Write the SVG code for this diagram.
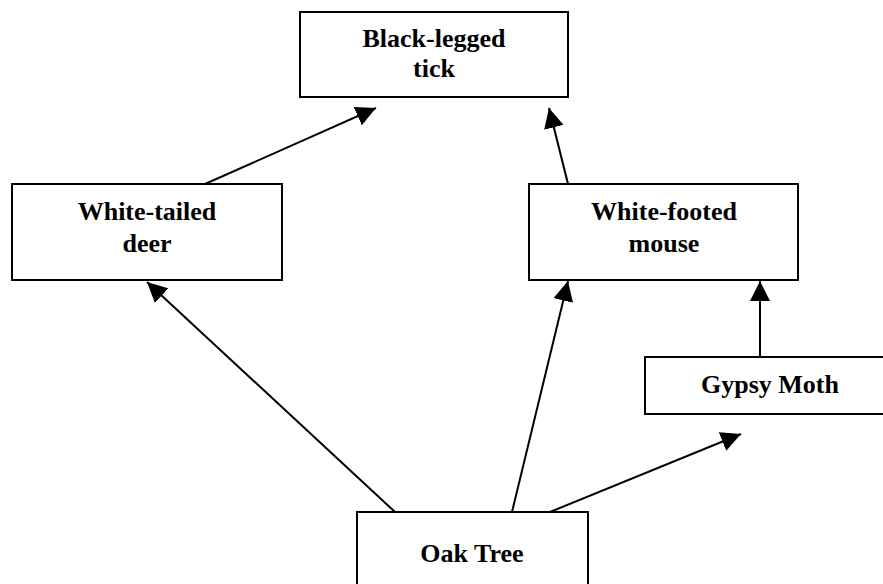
<svg xmlns="http://www.w3.org/2000/svg" width="883" height="584" viewBox="0 0 883 584">
<style>
.box{fill:#fff;stroke:#000;stroke-width:2}
.lbl{font-family:"Liberation Serif","Times New Roman",serif;font-weight:bold;font-size:26px;fill:#000;text-anchor:middle}
.conn line{stroke:#000;stroke-width:2;marker-end:url(#ah)}
</style>
<defs>
<marker id="ah" markerUnits="userSpaceOnUse" markerWidth="20" markerHeight="20" refX="20" refY="10" orient="auto" viewBox="0 0 20 20">
<path d="M0,0 L20,10 L0,20 z" fill="#000"/>
</marker>
</defs>
<rect width="883" height="584" fill="#fff"/>
<g id="tick"><rect class="box" x="300" y="12" width="268" height="85"/><text class="lbl" x="434" y="47">Black-legged</text><text class="lbl" x="434" y="77">tick</text></g>
<g id="deer"><rect class="box" x="12" y="184" width="270" height="96"/><text class="lbl" x="147" y="220">White-tailed</text><text class="lbl" x="147" y="252">deer</text></g>
<g id="mouse"><rect class="box" x="529" y="184" width="269" height="96"/><text class="lbl" x="664" y="220">White-footed</text><text class="lbl" x="664" y="252">mouse</text></g>
<g id="moth"><rect class="box" x="645" y="357" width="250" height="57"/><text class="lbl" x="770" y="393">Gypsy Moth</text></g>
<g id="oak"><rect class="box" x="357" y="512" width="231" height="100"/><text class="lbl" x="472" y="562">Oak Tree</text></g>
<g id="connectors" class="conn">
<line x1="205" y1="184" x2="376" y2="108"/>
<line x1="568" y1="184" x2="549" y2="108"/>
<line x1="395" y1="512" x2="147" y2="282"/>
<line x1="512" y1="512" x2="568" y2="281"/>
<line x1="550" y1="512" x2="741" y2="434"/>
<line x1="760" y1="357" x2="760" y2="281"/>
</g>
</svg>
